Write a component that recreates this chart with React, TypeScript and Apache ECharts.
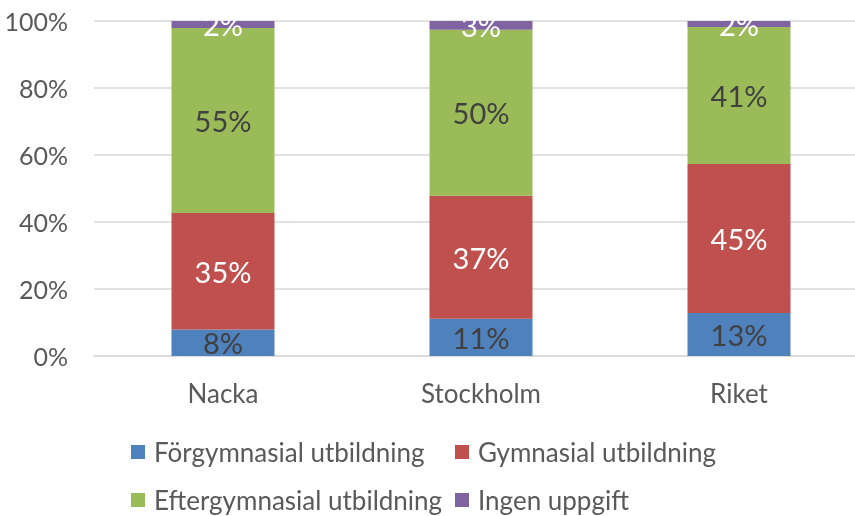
import React, { useEffect, useRef } from "react";
import * as echarts from "echarts";

const categories = ["Nacka", "Stockholm", "Riket"];
const seriesNames = [
  "Förgymnasial utbildning",
  "Gymnasial utbildning",
  "Eftergymnasial utbildning",
  "Ingen uppgift",
];
const forgymnasial = [7.9, 11.1, 12.8];
const gymnasial = [34.8, 36.7, 44.5];
const eftergymnasial = [55.2, 49.6, 40.9];
const ingenUppgift = [2.1, 2.6, 1.8];
const yTicks = [0, 20, 40, 60, 80, 100];

const colors = ["#4f81bd", "#c0504d", "#9bbb59", "#8064a2"];
const labelColors = ["#404040", "#ffffff", "#404040", "#ffffff"];
const FONT = "Lato";

export default function App() {
  const ref = useRef<HTMLDivElement>(null);
  useEffect(() => {
    if (!ref.current) return;
    const chart = echarts.init(ref.current, undefined, { renderer: "svg" });
    const values = [forgymnasial, gymnasial, eftergymnasial, ingenUppgift];
    const legendPos = [
      { left: 131, top: 439 },
      { left: 455, top: 439 },
      { left: 131, top: 487 },
      { left: 455, top: 487 },
    ];
    chart.setOption({
      animation: false,
      textStyle: { fontFamily: FONT },
      grid: { left: 94, right: 0, top: 21, height: 335, containLabel: false },
      xAxis: {
        type: "category",
        data: categories,
        axisLine: { lineStyle: { color: "#d9d9d9", width: 1.5 } },
        axisTick: { show: false },
        axisLabel: { color: "#595959", fontSize: 26, fontFamily: FONT, margin: 24 },
      },
      yAxis: {
        type: "value",
        min: 0,
        max: 100,
        interval: 20,
        axisLine: { show: false },
        axisTick: { show: false },
        splitLine: { lineStyle: { color: "#d9d9d9", width: 1.5 } },
        axisLabel: {
          color: "#595959",
          fontSize: 25,
          fontFamily: FONT,
          margin: 26,
          formatter: (v: number) => (yTicks.includes(v) ? v + "%" : ""),
        },
      },
      legend: seriesNames.map((n, i) => ({
        data: [n],
        left: legendPos[i].left,
        top: legendPos[i].top,
        itemWidth: 14,
        itemHeight: 14,
        icon: "rect",
        itemGap: 0,
        padding: 0,
        textStyle: { color: "#595959", fontSize: 26, fontFamily: FONT, padding: [0, 0, 0, 4] },
      })),
      series: seriesNames.map((n, i) => ({
        name: n,
        type: "bar",
        stack: "total",
        barWidth: 103,
        data: values[i],
        itemStyle: { color: colors[i] },
        label: {
          show: true,
          position: "inside",
          color: labelColors[i],
          fontSize: 29,
          fontFamily: FONT,
          formatter: (p: any) => Math.round(p.value) + "%",
        },
      })),
    });
    return () => chart.dispose();
  }, []);
  return (
    <div
      style={{ position: "fixed", left: 0, top: 0, width: 855, height: 516, overflow: "hidden" }}
    >
      <div ref={ref} style={{ width: 868, height: 516 }} />
    </div>
  );
}
